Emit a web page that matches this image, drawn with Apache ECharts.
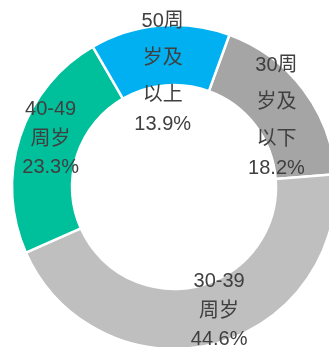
<!DOCTYPE html>
<html>
<head>
<meta charset="utf-8">
<style>
  html, body { margin: 0; padding: 0; background: #ffffff; }
  #chart { width: 329px; height: 347px; }
</style>
<script src="https://cdn.jsdelivr.net/npm/echarts@6/dist/echarts.min.js"></script>
</head>
<body>
<div id="chart"></div>
<script>
// Age groups and their share of the total, in percent
const categories = ['30周岁及以下', '30-39周岁', '40-49周岁', '50周岁及以上'];
const shares = [18.2, 44.6, 23.3, 13.9];

// Slice colours, in category order
const sliceColors = ['#A5A5A5', '#BFBFBF', '#00BF9B', '#00B0F0'];
// Small nudges of each label block from the ring's mid-radius
const labelNudges = [[-5, 8], [12, -7.5], [5, -7], [0.5, 16.5]];

const FONT_FAMILY = '"Liberation Sans", Arial, "Noto Sans CJK SC", sans-serif';
const FONT_SIZE = 20;
const WRAP_WIDTH = 55;

// Break a name into lines no wider than WRAP_WIDTH
const measureCtx = document.createElement('canvas').getContext('2d');
measureCtx.font = FONT_SIZE + 'px ' + FONT_FAMILY;
function wrapName(text) {
  const lines = [];
  let line = '';
  for (const ch of text) {
    const trial = line + ch;
    if (line && measureCtx.measureText(trial).width > WRAP_WIDTH) {
      lines.push(line);
      line = ch;
    } else {
      line = trial;
    }
  }
  if (line) lines.push(line);
  return lines;
}

const seriesData = categories.map((name, i) => {
  const lines = wrapName(name);
  const tall = lines.length > 2;
  return {
    name: name,
    value: shares[i],
    itemStyle: { color: sliceColors[i] },
    label: {
      offset: labelNudges[i],
      rich: {
        n: { lineHeight: tall ? 37 : 29.5 },
        p: { lineHeight: tall ? 21 : 27.5 }
      }
    }
  };
});

const chart = echarts.init(document.getElementById('chart'), null, { renderer: 'canvas' });
chart.setOption({
  animation: false,
  backgroundColor: '#ffffff',
  series: [{
    type: 'pie',
    center: [174, 187],
    radius: [102, 162],
    startAngle: 70,
    clockwise: true,
    avoidLabelOverlap: false,
    itemStyle: { borderColor: '#ffffff', borderWidth: 2.5 },
    label: {
      show: true,
      position: 'inside',
      color: '#404040',
      fontFamily: FONT_FAMILY,
      fontSize: FONT_SIZE,
      align: 'center',
      formatter: function (p) {
        const lines = wrapName(p.name).map(s => '{n|' + s + '}');
        lines.push('{p|' + p.value.toFixed(1) + '%}');
        return lines.join('\n');
      }
    },
    labelLine: { show: false },
    emphasis: { disabled: true },
    data: seriesData
  }]
});
</script>
</body>
</html>
